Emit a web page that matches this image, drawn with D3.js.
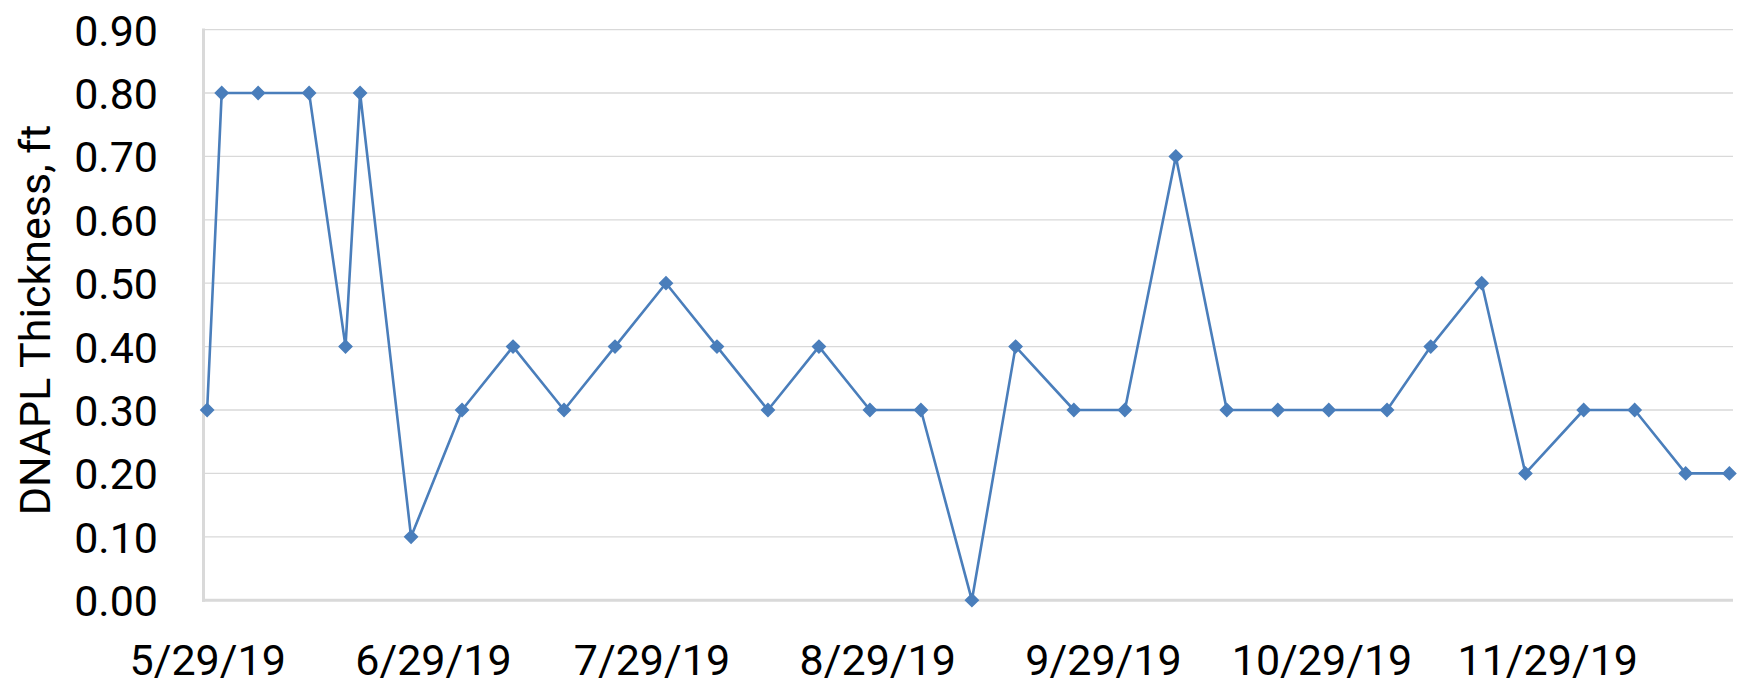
<!DOCTYPE html>
<html>
<head>
<meta charset="utf-8">
<script src="https://cdn.jsdelivr.net/npm/d3@7"></script>
<style>
  body { margin: 0; background: #fff; }
  text { font-family: Roboto, "Liberation Sans", sans-serif; fill: #000; }
</style>
</head>
<body>
<div id="chart"></div>
<script>
// sampling dates and measured DNAPL thickness (ft)
const dates = [
  "2019-05-29", "2019-05-31", "2019-06-05", "2019-06-12", "2019-06-17", "2019-06-19",
  "2019-06-26", "2019-07-03", "2019-07-10", "2019-07-17", "2019-07-24", "2019-07-31",
  "2019-08-07", "2019-08-14", "2019-08-21", "2019-08-28", "2019-09-04", "2019-09-11",
  "2019-09-17", "2019-09-25", "2019-10-02", "2019-10-09", "2019-10-16", "2019-10-23",
  "2019-10-30", "2019-11-07", "2019-11-13", "2019-11-20", "2019-11-26", "2019-12-04",
  "2019-12-11", "2019-12-18", "2019-12-24"
];
const thickness = [
  0.3, 0.8, 0.8, 0.8, 0.4, 0.8,
  0.1, 0.3, 0.4, 0.3, 0.4, 0.5,
  0.4, 0.3, 0.4, 0.3, 0.3, 0.0,
  0.4, 0.3, 0.3, 0.7, 0.3, 0.3,
  0.3, 0.3, 0.4, 0.5, 0.2, 0.3,
  0.3, 0.2, 0.2
];
const xTickDates = ["2019-05-29", "2019-06-29", "2019-07-29", "2019-08-29",
                    "2019-09-29", "2019-10-29", "2019-11-29"];
const yTicks = [0, 0.1, 0.2, 0.3, 0.4, 0.5, 0.6, 0.7, 0.8, 0.9];
const yTitle = "DNAPL Thickness, ft";

const width = 1740;
const height = 685;
const plotLeft = 203.5, plotRight = 1733, plotTop = 29.6, plotBottom = 600.2;

const parse = d3.utcParse("%Y-%m-%d");
const data = dates.map((d, i) => ({ date: parse(d), value: thickness[i] }));

const svg = d3.select("#chart").append("svg")
    .attr("width", width)
    .attr("height", height);

// half a day padding on each side, like excel's date axis
const halfDay = 12 * 3600 * 1000;
const x = d3.scaleUtc()
    .domain([+data[0].date - halfDay, +data[data.length - 1].date + halfDay])
    .range([plotLeft, plotRight]);

const y = d3.scaleLinear()
    .domain([0, 0.9])
    .range([plotBottom, plotTop]);

const blue = "#4a7ebb";
const grid = "#d9d9d9";

// horizontal gridlines
svg.append("g")
    .selectAll("line")
    .data(yTicks.filter(d => d > 0))
    .enter().append("line")
    .attr("x1", plotLeft)
    .attr("x2", plotRight)
    .attr("y1", d => y(d))
    .attr("y2", d => y(d))
    .attr("stroke", grid)
    .attr("stroke-width", 1.3);

// y axis labels
const yAxis = svg.append("g")
    .attr("transform", "translate(158,0)")
    .call(d3.axisLeft(y).tickValues(yTicks).tickFormat(d3.format(".2f")).tickSize(0).tickPadding(0));
yAxis.select(".domain").remove();
yAxis.selectAll("text")
    .style("font-size", "43px")
    .attr("dy", "0.36em");

// x axis labels
const xAxis = svg.append("g")
    .attr("transform", "translate(0," + plotBottom + ")")
    .call(d3.axisBottom(x)
        .tickValues(xTickDates.map(parse))
        .tickFormat(d3.utcFormat("%-m/%-d/%y"))
        .tickSize(0)
        .tickPadding(75));
xAxis.select(".domain").remove();
xAxis.selectAll("text")
    .style("font-size", "43px")
    .attr("dy", "0");

// axis lines
svg.append("line")
    .attr("x1", plotLeft).attr("x2", plotLeft)
    .attr("y1", plotTop - 1).attr("y2", plotBottom + 1.5)
    .attr("stroke", grid).attr("stroke-width", 3);
svg.append("line")
    .attr("x1", plotLeft - 1.5).attr("x2", plotRight)
    .attr("y1", plotBottom).attr("y2", plotBottom)
    .attr("stroke", grid).attr("stroke-width", 3);

// y title
svg.append("text")
    .attr("transform", "translate(50,320) rotate(-90)")
    .attr("text-anchor", "middle")
    .style("font-size", "43px")
    .text(yTitle);

// the series
const line = d3.line()
    .x(d => x(d.date))
    .y(d => y(d.value));

svg.append("path")
    .datum(data)
    .attr("d", line)
    .attr("fill", "none")
    .attr("stroke", blue)
    .attr("stroke-width", 2.6)
    .attr("stroke-linejoin", "round");

const diamond = d3.symbol().type(d3.symbolSquare).size(64);
svg.append("g")
    .selectAll("path")
    .data(data)
    .enter().append("path")
    .attr("d", diamond)
    .attr("transform", d => `translate(${x(d.date)},${y(d.value)}) rotate(45)`)
    .attr("fill", blue)
    .attr("stroke", blue)
    .attr("stroke-width", 2.5);
</script>
</body>
</html>
